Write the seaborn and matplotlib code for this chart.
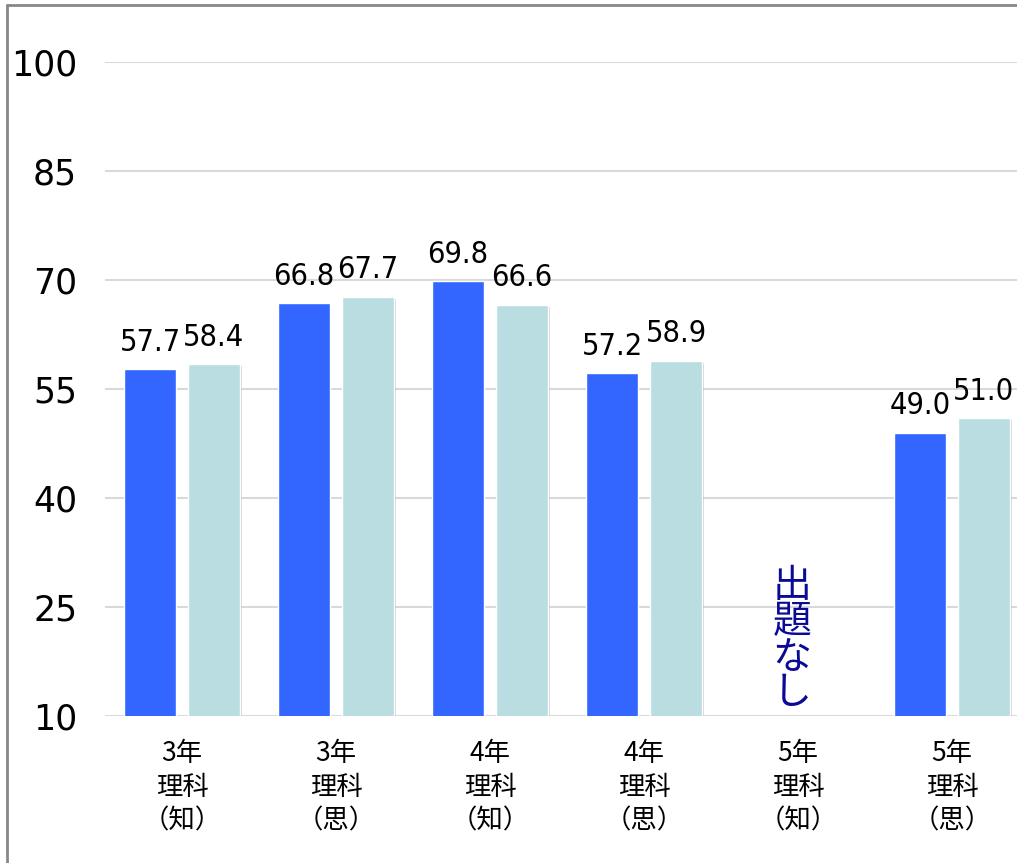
import numpy as np
import pandas as pd
import matplotlib
matplotlib.use("Agg")
import matplotlib.pyplot as plt
from matplotlib import font_manager
from matplotlib.font_manager import FontProperties
from matplotlib.lines import Line2D
import matplotlib.patheffects as pe
import seaborn as sns

categories = ["3年\n理科\n（知）", "3年\n理科\n（思）", "4年\n理科\n（知）",
              "4年\n理科\n（思）", "5年\n理科\n（知）", "5年\n理科\n（思）"]
series_names = ["本校", "全国"]
school = [57.7, 66.8, 69.8, 57.2, np.nan, 49.0]
national = [58.4, 67.7, 66.6, 58.9, np.nan, 51.0]
y_ticks = [10, 25, 40, 55, 70, 85, 100]
no_exam_text = "出題なし"
no_exam_index = 4

colors = ["#3366FF", "#B9DDE0"]

sns.set_theme(style="white")
plt.rcParams['font.family'] = ['Noto Sans CJK JP', 'DejaVu Sans']

# pick a narrow font for the value labels if one is installed
LABEL_SIZE = 22
label_fp = None
prefs = ["DejaVuSansCondensed.ttf", "RobotoCondensed-Regular", "LiberationSansNarrow-Regular",
         "OpenSans_Condensed-Regular", "OpenSansCondensed"]
files = [f.fname for f in font_manager.fontManager.ttflist]
for p in prefs:
    hit = [f for f in files if p.lower() in f.lower()]
    if hit:
        label_fp = FontProperties(fname=hit[0], size=LABEL_SIZE)
        break
if label_fp is None:
    hit = [f.fname for f in font_manager.fontManager.ttflist
           if f.stretch in ("condensed", "semi-condensed", "extra-condensed")
           and f.style == "normal" and f.weight in (400, "normal")]
    if hit:
        label_fp = FontProperties(fname=hit[0], size=LABEL_SIZE)
if label_fp is None:
    label_fp = FontProperties(family=["Noto Sans CJK JP"], size=20)

df = pd.DataFrame({
    "cat": categories * 2,
    "series": [series_names[0]] * len(categories) + [series_names[1]] * len(categories),
    "value": school + national,
})

W, H = 1017, 863
fig = plt.figure(figsize=(W / 100, H / 100), dpi=100)
ax = fig.add_axes([105 / W, (H - 716) / H, 924 / W, (716 - 62) / H])

sns.barplot(data=df, x="cat", y="value", hue="series", order=categories,
            hue_order=series_names, palette=colors, width=0.83, gap=0.2,
            saturation=1, legend=False, ax=ax, errorbar=None)

ax.set_xlim(-0.5, len(categories) - 0.5)
ax.set_ylim(y_ticks[0], y_ticks[-1])
ax.set_yticks(y_ticks)
ax.set_yticklabels([str(t) for t in y_ticks], fontsize=25, family=["DejaVu Sans"], color="black")
ax.set_xticks(range(len(categories)))
ax.set_xticklabels(categories, fontsize=19, linespacing=1.33, color="black")
ax.tick_params(axis='y', length=0, pad=20)
ax.tick_params(axis='x', length=0, pad=17)
ax.set_xlabel("")
ax.set_ylabel("")
for s in ax.spines.values():
    s.set_visible(False)
ax.yaxis.grid(True, color="#D9D9D9", linewidth=1.5)
ax.set_axisbelow(True)

for bar in ax.containers[1]:
    bar.set_path_effects([pe.SimplePatchShadow(offset=(1.5, -1.5), shadow_rgbFace="#888888", alpha=0.35),
                          pe.Normal()])

for cont in ax.containers:
    ax.bar_label(cont, fmt=lambda v: "" if np.isnan(v) else f"{v:.1f}",
                 padding=9, fontproperties=label_fp, color="black")

ax.text(no_exam_index - 0.04, 20.5, "\n".join(no_exam_text), ha="center", va="center",
        fontsize=28, color="#0A0A96", linespacing=0.86)

# outer frame (top and left edges visible)
fig.add_artist(Line2D([7 / W, 7 / W], [0, (H - 5) / H], transform=fig.transFigure,
                      color="#888888", linewidth=2))
fig.add_artist(Line2D([7 / W, 1], [(H - 5) / H, (H - 5) / H], transform=fig.transFigure,
                      color="#888888", linewidth=2))

fig.savefig("out.png", dpi=100)
